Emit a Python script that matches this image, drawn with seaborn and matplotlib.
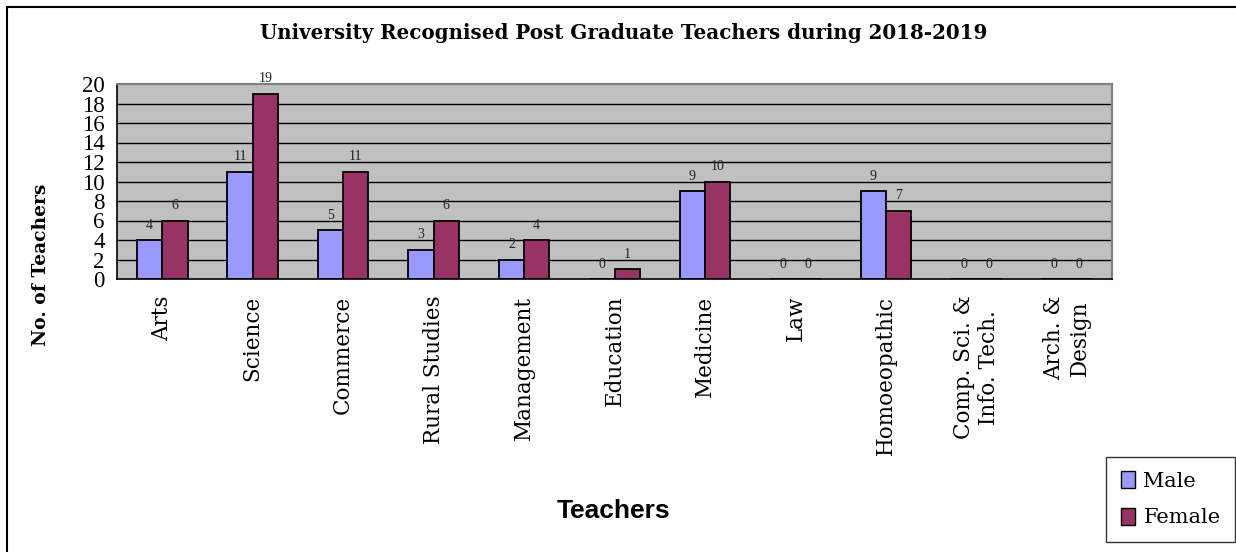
import seaborn as sns
import pandas as pd
import numpy as np
import matplotlib
matplotlib.use("Agg")
import matplotlib.pyplot as plt
from matplotlib.patches import Patch, Rectangle

# data
categories = ["Arts", "Science", "Commerce", "Rural Studies", "Management", "Education",
              "Medicine", "Law", "Homoeopathic", "Comp. Sci. &\nInfo. Tech.", "Arch. &\nDesign"]
male = [4, 11, 5, 3, 2, 0, 9, 0, 9, 0, 0]
female = [6, 19, 11, 6, 4, 1, 10, 0, 7, 0, 0]
y_ticks = [0, 2, 4, 6, 8, 10, 12, 14, 16, 18, 20]

df = pd.DataFrame({"Faculty": categories, "Male": male, "Female": female})
df = df.melt(id_vars="Faculty", var_name="Gender", value_name="Teachers")

colors = {"Male": "#9999FF", "Female": "#993366"}

sns.set_style("white")
plt.rcParams.update({"text.color": "black", "xtick.color": "black",
                     "ytick.color": "black", "axes.labelcolor": "black"})
fig = plt.figure(figsize=(12.36, 5.52), dpi=100)
ax = fig.add_axes([117/1236, 1 - 279/552, (1112-117)/1236, (279-84)/552])
ax.set_facecolor("#C0C0C0")

sns.barplot(data=df, x="Faculty", y="Teachers", hue="Gender", order=categories,
            hue_order=["Male", "Female"], palette=colors, saturation=1, width=0.56, gap=0,
            edgecolor="black", linewidth=1.3, errorbar=None, legend=False, ax=ax)

# value labels
for cont in ax.containers:
    ax.bar_label(cont, padding=6, fontsize=10, family="Liberation Serif", color="#222222")

ax.set_ylim(0, 20)
ax.set_xlim(-0.5, len(categories) - 0.5)
ax.set_yticks(y_ticks)
ax.set_yticklabels([str(v) for v in y_ticks], family="Liberation Serif", fontsize=16.5)
for v in y_ticks[1:-1]:
    ax.axhline(v, color="black", lw=1.0, zorder=0.5)
ax.set_axisbelow(True)

ax.set_xticks(range(len(categories)))
ax.set_xticklabels(categories, rotation=90, family="DejaVu Serif", fontsize=15.5,
                   va="top", ha="center", multialignment="center")
ax.tick_params(axis="x", length=0, pad=12)
ax.set_xticks(np.arange(-0.5, len(categories), 1.0), minor=True)
ax.tick_params(axis="x", which="minor", length=8, width=1, color="black", direction="out")
ax.tick_params(axis="y", length=7, width=1, color="black", direction="out", pad=2)

ax.set_xlabel("")
ax.set_ylabel("")
for s in ["left", "bottom"]:
    ax.spines[s].set_color("black")
    ax.spines[s].set_linewidth(1.2)
for s in ["top", "right"]:
    ax.spines[s].set_color("#808080")
    ax.spines[s].set_linewidth(1.6)

fig.text(624/1236, 1 - 33/552, "University Recognised Post Graduate Teachers during 2018-2019",
         ha="center", va="center", family="DejaVu Serif", fontweight="bold", fontsize=14.3)
fig.text(41/1236, 1 - 265/552, "No. of Teachers", rotation=90, ha="center", va="center",
         family="DejaVu Serif", fontweight="bold", fontsize=13.5)
fig.text(614/1236, 1 - 511/552, "Teachers", ha="center", va="center",
         family="Liberation Sans", fontweight="bold", fontsize=19)

handles = [Patch(facecolor=colors[g], edgecolor="black", label=g) for g in ["Male", "Female"]]
leg = fig.legend(handles=handles, loc="lower left", bbox_to_anchor=(1106/1236, 10/552),
                 borderaxespad=0, frameon=True, fancybox=False, edgecolor="black",
                 handlelength=0.7, handleheight=0.9, handletextpad=0.4, labelspacing=0.8,
                 borderpad=0.7, prop={"family": "DejaVu Serif", "size": 15})
leg.get_frame().set_linewidth(1.0)

fig.patches.append(Rectangle((6.5/1236, -0.05), 1.1, 1.05 - 6.5/552, transform=fig.transFigure,
                             fill=False, edgecolor="black", lw=1.5))

fig.savefig("out.png", dpi=100)
